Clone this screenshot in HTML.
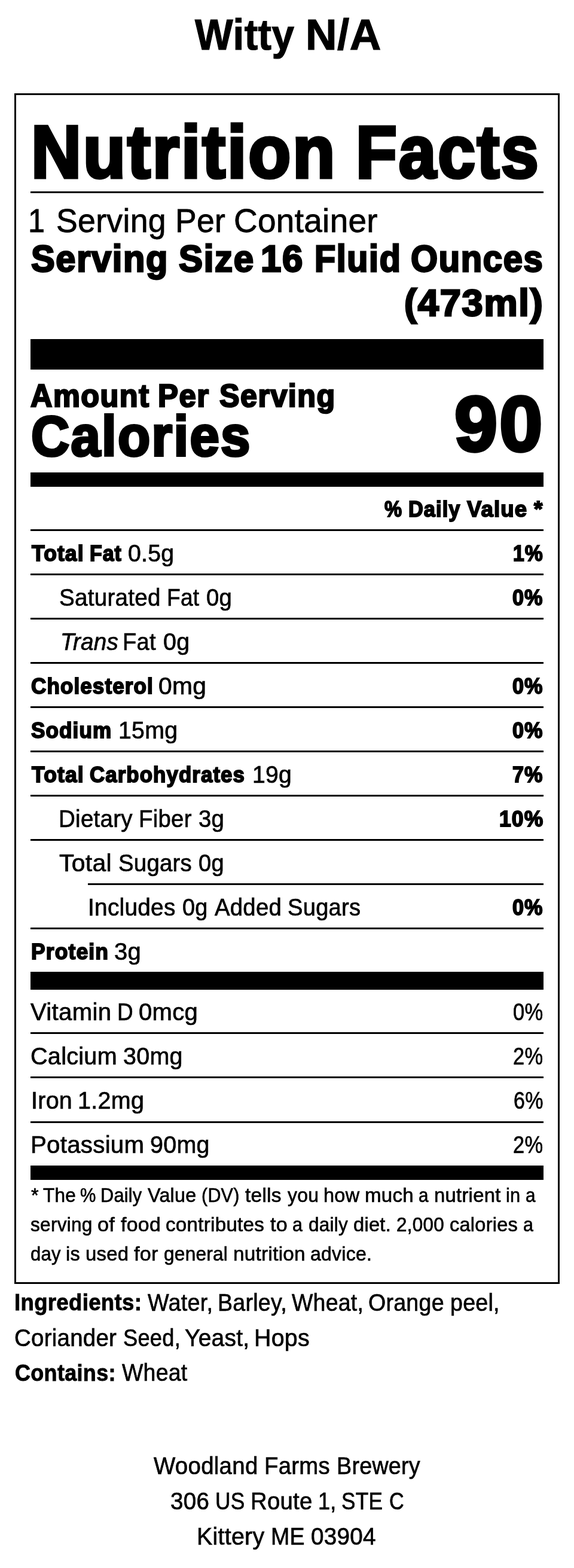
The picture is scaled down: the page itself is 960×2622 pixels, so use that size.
<!DOCTYPE html>
<html lang="en">
<head>
<meta charset="utf-8">
<title>Witty N/A - Nutrition Facts</title>
<style>
html,body{margin:0;padding:0;background:#fff;}
body{width:960px;height:2622px;position:relative;overflow:hidden;color:#000;font-family:"Liberation Sans",sans-serif;}
.t{position:absolute;white-space:pre;line-height:1;margin:0;padding:0;transform-origin:0 0;display:block;}
.k{position:absolute;background:#000;margin:0;}
.box{position:absolute;box-sizing:border-box;border:3px solid #000;}
h1,h2,p,ul,li,section,footer{margin:0;padding:0;list-style:none;font-size:0;line-height:0;font-weight:400;}
</style>
</head>
<body>
<h1><span class="t" style="left:325.8px;top:22.51px;font-size:71.7px;font-weight:700;-webkit-text-stroke:1.22px #000;letter-spacing:0.49px;transform:scaleX(0.9404)">Witty</span> <span class="t" style="left:510.68px;top:22.51px;font-size:71.7px;font-weight:700;-webkit-text-stroke:1.22px #000;letter-spacing:0.49px;transform:scaleX(1.0143)">N/A</span></h1>
<section>
<div class="box" style="left:24px;top:156px;width:912px;height:1991.2px"></div>
<h2><span class="t" style="left:51.89px;top:192.51px;font-size:123.92px;font-weight:700;-webkit-text-stroke:5.24px #000;letter-spacing:3.14px;transform:scaleX(0.9392)">Nutrition</span> <span class="t" style="left:595px;top:192.51px;font-size:123.92px;font-weight:700;-webkit-text-stroke:5.24px #000;letter-spacing:3.14px;transform:scaleX(0.9091)">Facts</span></h2>
<div class="k" style="left:51px;top:319.9px;width:858px;height:3.05px"></div>
<p><span class="t" style="left:47.35px;top:341.11px;font-size:56.29px;font-weight:400;-webkit-text-stroke:0.78px #000;letter-spacing:0.31px;transform:scaleX(0.8985)">1</span> <span class="t" style="left:94.01px;top:341.11px;font-size:56.29px;font-weight:400;-webkit-text-stroke:0.78px #000;letter-spacing:0.31px;transform:scaleX(0.9529)">Serving</span> <span class="t" style="left:293.25px;top:341.11px;font-size:56.29px;font-weight:400;-webkit-text-stroke:0.78px #000;letter-spacing:0.31px;transform:scaleX(0.9503)">Per</span> <span class="t" style="left:391.08px;top:341.11px;font-size:56.29px;font-weight:400;-webkit-text-stroke:0.78px #000;letter-spacing:0.31px;transform:scaleX(0.9762)">Container</span></p>
<p><span class="t" style="left:52.43px;top:400.51px;font-size:62.83px;font-weight:700;-webkit-text-stroke:2.92px #000;letter-spacing:1.75px;transform:scaleX(0.9477)">Serving</span> <span class="t" style="left:298.98px;top:400.51px;font-size:62.83px;font-weight:700;-webkit-text-stroke:2.92px #000;letter-spacing:1.75px;transform:scaleX(0.9564)">Size</span> <span class="t" style="left:436.16px;top:400.51px;font-size:62.83px;font-weight:700;-webkit-text-stroke:2.92px #000;letter-spacing:1.75px;transform:scaleX(0.9825)">16</span> <span class="t" style="left:525.9px;top:400.51px;font-size:62.83px;font-weight:700;-webkit-text-stroke:2.92px #000;letter-spacing:1.75px;transform:scaleX(0.9159)">Fluid</span> <span class="t" style="left:687.15px;top:400.51px;font-size:62.83px;font-weight:700;-webkit-text-stroke:2.92px #000;letter-spacing:1.75px;transform:scaleX(0.9232)">Ounces</span> <span class="t" style="left:676.17px;top:474.51px;font-size:62.83px;font-weight:700;-webkit-text-stroke:2.92px #000;letter-spacing:1.75px;transform:scaleX(1.0052)">(473ml)</span></p>
<div class="k" style="left:51px;top:566.75px;width:858px;height:51.1px"></div>
<p><span class="t" style="left:51.14px;top:634.75px;font-size:53.14px;font-weight:700;-webkit-text-stroke:2.57px #000;letter-spacing:1.54px;transform:scaleX(0.9502)">Amount</span> <span class="t" style="left:264.47px;top:634.75px;font-size:53.14px;font-weight:700;-webkit-text-stroke:2.57px #000;letter-spacing:1.54px;transform:scaleX(0.9591)">Per</span> <span class="t" style="left:366.67px;top:634.75px;font-size:53.14px;font-weight:700;-webkit-text-stroke:2.57px #000;letter-spacing:1.54px;transform:scaleX(0.9463)">Serving</span></p>
<p><span class="t" style="left:52.29px;top:681.9px;font-size:95.46px;font-weight:700;-webkit-text-stroke:4.2px #000;letter-spacing:2.52px;transform:scaleX(0.9293)">Calories</span> <span class="t" style="left:759.74px;top:644.57px;font-size:129.2px;font-weight:700;-webkit-text-stroke:5.35px #000;letter-spacing:3.21px;transform:scaleX(1.0017)">90</span></p>
<div class="k" style="left:51px;top:789.85px;width:858px;height:24px"></div>
<p><span class="t" style="left:643.12px;top:833px;font-size:37.75px;font-weight:700;-webkit-text-stroke:1.98px #000;letter-spacing:1.19px;transform:scaleX(0.8671)">%</span> <span class="t" style="left:682.96px;top:833px;font-size:37.75px;font-weight:700;-webkit-text-stroke:1.98px #000;letter-spacing:1.19px;transform:scaleX(0.9089)">Daily</span> <span class="t" style="left:781.13px;top:833px;font-size:37.75px;font-weight:700;-webkit-text-stroke:1.98px #000;letter-spacing:1.19px;transform:scaleX(0.9677)">Value</span> <span class="t" style="left:892.97px;top:833px;font-size:37.75px;font-weight:700;-webkit-text-stroke:1.98px #000;letter-spacing:1.19px;transform:scaleX(0.9778)">*</span></p>
<ul>
<li><div class="k" style="left:51px;top:884.9px;width:858px;height:3.05px"></div><span class="t" style="left:52.67px;top:907.4px;font-size:37.75px;font-weight:700;-webkit-text-stroke:1.98px #000;letter-spacing:1.19px;transform:scaleX(0.9396)">Total</span> <span class="t" style="left:149.67px;top:907.4px;font-size:37.75px;font-weight:700;-webkit-text-stroke:1.98px #000;letter-spacing:1.19px;transform:scaleX(0.8958)">Fat</span> <span class="t" style="left:214.44px;top:905.15px;font-size:40px;font-weight:400;-webkit-text-stroke:0.7px #000;letter-spacing:0.28px;transform:scaleX(0.9802)">0.5g</span> <span class="t" style="left:858.15px;top:907.4px;font-size:37.75px;font-weight:700;-webkit-text-stroke:1.98px #000;letter-spacing:1.19px;transform:scaleX(0.8930)">1%</span></li>
<li><div class="k" style="left:51px;top:958.9px;width:858px;height:3.05px"></div><span class="t" style="left:98.63px;top:979.15px;font-size:40px;font-weight:400;-webkit-text-stroke:0.7px #000;letter-spacing:0.28px;transform:scaleX(0.9649)">Saturated</span> <span class="t" style="left:279.08px;top:979.15px;font-size:40px;font-weight:400;-webkit-text-stroke:0.7px #000;letter-spacing:0.28px;transform:scaleX(0.9285)">Fat</span> <span class="t" style="left:344.81px;top:979.15px;font-size:40px;font-weight:400;-webkit-text-stroke:0.7px #000;letter-spacing:0.28px;transform:scaleX(0.9556)">0g</span> <span class="t" style="left:857.33px;top:981.4px;font-size:37.75px;font-weight:700;-webkit-text-stroke:1.98px #000;letter-spacing:1.19px;transform:scaleX(0.9064)">0%</span></li>
<li><div class="k" style="left:51px;top:1032.9px;width:858px;height:3.05px"></div><span class="t" style="left:100.59px;top:1053.15px;font-size:40px;font-weight:400;font-style:italic;-webkit-text-stroke:0.7px #000;letter-spacing:0.28px;transform:scaleX(0.9647)">Trans</span> <span class="t" style="left:205.14px;top:1053.15px;font-size:40px;font-weight:400;-webkit-text-stroke:0.7px #000;letter-spacing:0.28px;transform:scaleX(0.9509)">Fat</span> <span class="t" style="left:272.85px;top:1053.15px;font-size:40px;font-weight:400;-webkit-text-stroke:0.7px #000;letter-spacing:0.28px;transform:scaleX(0.9832)">0g</span></li>
<li><div class="k" style="left:51px;top:1106.9px;width:858px;height:3.05px"></div><span class="t" style="left:51.64px;top:1129.4px;font-size:37.75px;font-weight:700;-webkit-text-stroke:1.98px #000;letter-spacing:1.19px;transform:scaleX(0.9279)">Cholesterol</span> <span class="t" style="left:265.31px;top:1127.15px;font-size:40px;font-weight:400;-webkit-text-stroke:0.7px #000;letter-spacing:0.28px;transform:scaleX(1.0185)">0mg</span> <span class="t" style="left:857.33px;top:1129.4px;font-size:37.75px;font-weight:700;-webkit-text-stroke:1.98px #000;letter-spacing:1.19px;transform:scaleX(0.9064)">0%</span></li>
<li><div class="k" style="left:51px;top:1180.9px;width:858px;height:3.05px"></div><span class="t" style="left:52.11px;top:1203.4px;font-size:37.75px;font-weight:700;-webkit-text-stroke:1.98px #000;letter-spacing:1.19px;transform:scaleX(0.9298)">Sodium</span> <span class="t" style="left:198.15px;top:1201.15px;font-size:40px;font-weight:400;-webkit-text-stroke:0.7px #000;letter-spacing:0.28px;transform:scaleX(0.9814)">15mg</span> <span class="t" style="left:857.33px;top:1203.4px;font-size:37.75px;font-weight:700;-webkit-text-stroke:1.98px #000;letter-spacing:1.19px;transform:scaleX(0.9064)">0%</span></li>
<li><div class="k" style="left:51px;top:1254.9px;width:858px;height:3.05px"></div><span class="t" style="left:53.06px;top:1277.4px;font-size:37.75px;font-weight:700;-webkit-text-stroke:1.98px #000;letter-spacing:1.19px;transform:scaleX(0.9409)">Total</span> <span class="t" style="left:150.15px;top:1277.4px;font-size:37.75px;font-weight:700;-webkit-text-stroke:1.98px #000;letter-spacing:1.19px;transform:scaleX(0.9224)">Carbohydrates</span> <span class="t" style="left:421.51px;top:1275.15px;font-size:40px;font-weight:400;-webkit-text-stroke:0.7px #000;letter-spacing:0.28px;transform:scaleX(0.9782)">19g</span> <span class="t" style="left:857.43px;top:1277.4px;font-size:37.75px;font-weight:700;-webkit-text-stroke:1.98px #000;letter-spacing:1.19px;transform:scaleX(0.9067)">7%</span></li>
<li><div class="k" style="left:51px;top:1328.9px;width:858px;height:3.05px"></div><span class="t" style="left:98.41px;top:1349.15px;font-size:40px;font-weight:400;-webkit-text-stroke:0.7px #000;letter-spacing:0.28px;transform:scaleX(0.9623)">Dietary</span> <span class="t" style="left:232.03px;top:1349.15px;font-size:40px;font-weight:400;-webkit-text-stroke:0.7px #000;letter-spacing:0.28px;transform:scaleX(0.9589)">Fiber</span> <span class="t" style="left:331.84px;top:1349.15px;font-size:40px;font-weight:400;-webkit-text-stroke:0.7px #000;letter-spacing:0.28px;transform:scaleX(0.9590)">3g</span> <span class="t" style="left:834.65px;top:1351.4px;font-size:37.75px;font-weight:700;-webkit-text-stroke:1.98px #000;letter-spacing:1.19px;transform:scaleX(0.9389)">10%</span></li>
<li><div class="k" style="left:51px;top:1402.9px;width:858px;height:3.05px"></div><span class="t" style="left:99.47px;top:1423.15px;font-size:40px;font-weight:400;-webkit-text-stroke:0.7px #000;letter-spacing:0.28px;transform:scaleX(1.0239)">Total</span> <span class="t" style="left:197.8px;top:1423.15px;font-size:40px;font-weight:400;-webkit-text-stroke:0.7px #000;letter-spacing:0.28px;transform:scaleX(0.9577)">Sugars</span> <span class="t" style="left:332.07px;top:1423.15px;font-size:40px;font-weight:400;-webkit-text-stroke:0.7px #000;letter-spacing:0.28px;transform:scaleX(0.9496)">0g</span></li>
<li><div class="k" style="left:147px;top:1476.9px;width:762px;height:3.05px"></div><span class="t" style="left:147px;top:1497.15px;font-size:40px;font-weight:400;-webkit-text-stroke:0.7px #000;letter-spacing:0.28px;transform:scaleX(0.9694)">Includes</span> <span class="t" style="left:304.81px;top:1497.15px;font-size:40px;font-weight:400;-webkit-text-stroke:0.7px #000;letter-spacing:0.28px;transform:scaleX(0.9455)">0g</span> <span class="t" style="left:358.66px;top:1497.15px;font-size:40px;font-weight:400;-webkit-text-stroke:0.7px #000;letter-spacing:0.28px;transform:scaleX(0.9571)">Added</span> <span class="t" style="left:481.4px;top:1497.15px;font-size:40px;font-weight:400;-webkit-text-stroke:0.7px #000;letter-spacing:0.28px;transform:scaleX(0.9525)">Sugars</span> <span class="t" style="left:857.33px;top:1499.4px;font-size:37.75px;font-weight:700;-webkit-text-stroke:1.98px #000;letter-spacing:1.19px;transform:scaleX(0.9064)">0%</span></li>
<li><div class="k" style="left:51px;top:1550.9px;width:858px;height:3.05px"></div><span class="t" style="left:51.51px;top:1573.4px;font-size:37.75px;font-weight:700;-webkit-text-stroke:1.98px #000;letter-spacing:1.19px;transform:scaleX(0.9398)">Protein</span> <span class="t" style="left:191.39px;top:1571.15px;font-size:40px;font-weight:400;-webkit-text-stroke:0.7px #000;letter-spacing:0.28px;transform:scaleX(0.9998)">3g</span></li>
</ul>
<div class="k" style="left:51px;top:1625.3px;width:858px;height:30px"></div>
<ul>
<li><span class="t" style="left:51.44px;top:1671.55px;font-size:40px;font-weight:400;-webkit-text-stroke:0.7px #000;letter-spacing:0.28px;transform:scaleX(1.0048)">Vitamin</span> <span class="t" style="left:195.53px;top:1671.55px;font-size:40px;font-weight:400;-webkit-text-stroke:0.7px #000;letter-spacing:0.28px;transform:scaleX(0.9218)">D</span> <span class="t" style="left:232.37px;top:1671.55px;font-size:40px;font-weight:400;-webkit-text-stroke:0.7px #000;letter-spacing:0.28px;transform:scaleX(1.0007)">0mcg</span> <span class="t" style="left:858.34px;top:1671.55px;font-size:40px;font-weight:400;-webkit-text-stroke:0.7px #000;letter-spacing:0.28px;transform:scaleX(0.8633)">0%</span></li>
<li><div class="k" style="left:51px;top:1726.3px;width:858px;height:3.05px"></div><span class="t" style="left:51.16px;top:1745.75px;font-size:40px;font-weight:400;-webkit-text-stroke:0.7px #000;letter-spacing:0.28px;transform:scaleX(0.9896)">Calcium</span> <span class="t" style="left:206.24px;top:1745.75px;font-size:40px;font-weight:400;-webkit-text-stroke:0.7px #000;letter-spacing:0.28px;transform:scaleX(0.9866)">30mg</span> <span class="t" style="left:858.47px;top:1745.75px;font-size:40px;font-weight:400;-webkit-text-stroke:0.7px #000;letter-spacing:0.28px;transform:scaleX(0.8604)">2%</span></li>
<li><div class="k" style="left:51px;top:1800.4px;width:858px;height:3.05px"></div><span class="t" style="left:51.81px;top:1819.85px;font-size:40px;font-weight:400;-webkit-text-stroke:0.7px #000;letter-spacing:0.28px;transform:scaleX(0.9861)">Iron</span> <span class="t" style="left:130.48px;top:1819.85px;font-size:40px;font-weight:400;-webkit-text-stroke:0.7px #000;letter-spacing:0.28px;transform:scaleX(0.9877)">1.2mg</span> <span class="t" style="left:858.86px;top:1819.85px;font-size:40px;font-weight:400;-webkit-text-stroke:0.7px #000;letter-spacing:0.28px;transform:scaleX(0.8506)">6%</span></li>
<li><div class="k" style="left:51px;top:1874.5px;width:858px;height:3.05px"></div><span class="t" style="left:50.89px;top:1894.05px;font-size:40px;font-weight:400;-webkit-text-stroke:0.7px #000;letter-spacing:0.28px;transform:scaleX(1.0054)">Potassium</span> <span class="t" style="left:250.97px;top:1894.05px;font-size:40px;font-weight:400;-webkit-text-stroke:0.7px #000;letter-spacing:0.28px;transform:scaleX(0.9868)">90mg</span> <span class="t" style="left:858.47px;top:1894.05px;font-size:40px;font-weight:400;-webkit-text-stroke:0.7px #000;letter-spacing:0.28px;transform:scaleX(0.8604)">2%</span></li>
</ul>
<div class="k" style="left:51px;top:1948.75px;width:858px;height:23.9px"></div>
<p><span class="t" style="left:51.66px;top:1981.65px;font-size:33.38px;font-weight:400;-webkit-text-stroke:0.67px #000;letter-spacing:0.27px;transform:scaleX(0.9715)">*</span> <span class="t" style="left:72.34px;top:1981.65px;font-size:33.38px;font-weight:400;-webkit-text-stroke:0.67px #000;letter-spacing:0.27px;transform:scaleX(0.9446)">The</span> <span class="t" style="left:133.96px;top:1981.65px;font-size:33.38px;font-weight:400;-webkit-text-stroke:0.67px #000;letter-spacing:0.27px;transform:scaleX(0.8881)">%</span> <span class="t" style="left:168.25px;top:1981.65px;font-size:33.38px;font-weight:400;-webkit-text-stroke:0.67px #000;letter-spacing:0.27px;transform:scaleX(0.9195)">Daily</span> <span class="t" style="left:247.33px;top:1981.65px;font-size:33.38px;font-weight:400;-webkit-text-stroke:0.67px #000;letter-spacing:0.27px;transform:scaleX(0.9670)">Value</span> <span class="t" style="left:336.53px;top:1981.65px;font-size:33.38px;font-weight:400;-webkit-text-stroke:0.67px #000;letter-spacing:0.27px;transform:scaleX(0.9122)">(DV)</span> <span class="t" style="left:410.31px;top:1981.65px;font-size:33.38px;font-weight:400;-webkit-text-stroke:0.67px #000;letter-spacing:0.27px;transform:scaleX(1.0015)">tells</span> <span class="t" style="left:481.27px;top:1981.65px;font-size:33.38px;font-weight:400;-webkit-text-stroke:0.67px #000;letter-spacing:0.27px;transform:scaleX(0.9568)">you</span> <span class="t" style="left:541.12px;top:1981.65px;font-size:33.38px;font-weight:400;-webkit-text-stroke:0.67px #000;letter-spacing:0.27px;transform:scaleX(0.9730)">how</span> <span class="t" style="left:610.41px;top:1981.65px;font-size:33.38px;font-weight:400;-webkit-text-stroke:0.67px #000;letter-spacing:0.27px;transform:scaleX(0.9915)">much</span> <span class="t" style="left:700.06px;top:1981.65px;font-size:33.38px;font-weight:400;-webkit-text-stroke:0.67px #000;letter-spacing:0.27px;transform:scaleX(0.8881)">a</span> <span class="t" style="left:725.79px;top:1981.65px;font-size:33.38px;font-weight:400;-webkit-text-stroke:0.67px #000;letter-spacing:0.27px;transform:scaleX(0.9830)">nutrient</span> <span class="t" style="left:846.35px;top:1981.65px;font-size:33.38px;font-weight:400;-webkit-text-stroke:0.67px #000;letter-spacing:0.27px;transform:scaleX(0.9233)">in</span> <span class="t" style="left:878.63px;top:1981.65px;font-size:33.38px;font-weight:400;-webkit-text-stroke:0.67px #000;letter-spacing:0.27px;transform:scaleX(0.8881)">a</span> <span class="t" style="left:51.32px;top:2030.95px;font-size:33.38px;font-weight:400;-webkit-text-stroke:0.67px #000;letter-spacing:0.27px;transform:scaleX(0.9467)">serving</span> <span class="t" style="left:163.39px;top:2030.95px;font-size:33.38px;font-weight:400;-webkit-text-stroke:0.67px #000;letter-spacing:0.27px;transform:scaleX(1.0248)">of</span> <span class="t" style="left:201.89px;top:2030.95px;font-size:33.38px;font-weight:400;-webkit-text-stroke:0.67px #000;letter-spacing:0.27px;transform:scaleX(1.0154)">food</span> <span class="t" style="left:277.44px;top:2030.95px;font-size:33.38px;font-weight:400;-webkit-text-stroke:0.67px #000;letter-spacing:0.27px;transform:scaleX(0.9934)">contributes</span> <span class="t" style="left:451.96px;top:2030.95px;font-size:33.38px;font-weight:400;-webkit-text-stroke:0.67px #000;letter-spacing:0.27px;transform:scaleX(1.0214)">to</span> <span class="t" style="left:489.09px;top:2030.95px;font-size:33.38px;font-weight:400;-webkit-text-stroke:0.67px #000;letter-spacing:0.27px;transform:scaleX(0.9088)">a</span> <span class="t" style="left:515.71px;top:2030.95px;font-size:33.38px;font-weight:400;-webkit-text-stroke:0.67px #000;letter-spacing:0.27px;transform:scaleX(0.9424)">daily</span> <span class="t" style="left:591.17px;top:2030.95px;font-size:33.38px;font-weight:400;-webkit-text-stroke:0.67px #000;letter-spacing:0.27px;transform:scaleX(0.9785)">diet.</span> <span class="t" style="left:662.7px;top:2030.95px;font-size:33.38px;font-weight:400;-webkit-text-stroke:0.67px #000;letter-spacing:0.27px;transform:scaleX(0.9408)">2,000</span> <span class="t" style="left:752.11px;top:2030.95px;font-size:33.38px;font-weight:400;-webkit-text-stroke:0.67px #000;letter-spacing:0.27px;transform:scaleX(0.9742)">calories</span> <span class="t" style="left:874.51px;top:2030.95px;font-size:33.38px;font-weight:400;-webkit-text-stroke:0.67px #000;letter-spacing:0.27px;transform:scaleX(0.9088)">a</span> <span class="t" style="left:50.84px;top:2080.45px;font-size:33.38px;font-weight:400;-webkit-text-stroke:0.67px #000;letter-spacing:0.27px;transform:scaleX(0.9269)">day</span> <span class="t" style="left:110.41px;top:2080.45px;font-size:33.38px;font-weight:400;-webkit-text-stroke:0.67px #000;letter-spacing:0.27px;transform:scaleX(0.9718)">is</span> <span class="t" style="left:143.2px;top:2080.45px;font-size:33.38px;font-weight:400;-webkit-text-stroke:0.67px #000;letter-spacing:0.27px;transform:scaleX(0.9854)">used</span> <span class="t" style="left:224.43px;top:2080.45px;font-size:33.38px;font-weight:400;-webkit-text-stroke:0.67px #000;letter-spacing:0.27px;transform:scaleX(1.0232)">for</span> <span class="t" style="left:273.67px;top:2080.45px;font-size:33.38px;font-weight:400;-webkit-text-stroke:0.67px #000;letter-spacing:0.27px;transform:scaleX(0.9459)">general</span> <span class="t" style="left:389.54px;top:2080.45px;font-size:33.38px;font-weight:400;-webkit-text-stroke:0.67px #000;letter-spacing:0.27px;transform:scaleX(0.9979)">nutrition</span> <span class="t" style="left:519px;top:2080.45px;font-size:33.38px;font-weight:400;-webkit-text-stroke:0.67px #000;letter-spacing:0.27px;transform:scaleX(0.9582)">advice.</span></p>
</section>
<p><span class="t" style="left:24.19px;top:2158.41px;font-size:39.51px;font-weight:700;-webkit-text-stroke:0.9px #000;letter-spacing:0.36px;transform:scaleX(0.9253)">Ingredients:</span> <span class="t" style="left:246.72px;top:2157.65px;font-size:40px;font-weight:400;-webkit-text-stroke:0.7px #000;letter-spacing:0.28px;transform:scaleX(0.9435)">Water,</span> <span class="t" style="left:363.65px;top:2157.65px;font-size:40px;font-weight:400;-webkit-text-stroke:0.7px #000;letter-spacing:0.28px;transform:scaleX(0.9387)">Barley,</span> <span class="t" style="left:488.21px;top:2157.65px;font-size:40px;font-weight:400;-webkit-text-stroke:0.7px #000;letter-spacing:0.28px;transform:scaleX(0.9358)">Wheat,</span> <span class="t" style="left:616.49px;top:2157.65px;font-size:40px;font-weight:400;-webkit-text-stroke:0.7px #000;letter-spacing:0.28px;transform:scaleX(0.9383)">Orange</span> <span class="t" style="left:753.32px;top:2157.65px;font-size:40px;font-weight:400;-webkit-text-stroke:0.7px #000;letter-spacing:0.28px;transform:scaleX(0.9381)">peel,</span> <span class="t" style="left:24.38px;top:2216.55px;font-size:40px;font-weight:400;-webkit-text-stroke:0.7px #000;letter-spacing:0.28px;transform:scaleX(0.9605)">Coriander</span> <span class="t" style="left:206.23px;top:2216.55px;font-size:40px;font-weight:400;-webkit-text-stroke:0.7px #000;letter-spacing:0.28px;transform:scaleX(0.9058)">Seed,</span> <span class="t" style="left:309.1px;top:2216.55px;font-size:40px;font-weight:400;-webkit-text-stroke:0.7px #000;letter-spacing:0.28px;transform:scaleX(0.9719)">Yeast,</span> <span class="t" style="left:424.6px;top:2216.55px;font-size:40px;font-weight:400;-webkit-text-stroke:0.7px #000;letter-spacing:0.28px;transform:scaleX(0.9830)">Hops</span></p>
<p><span class="t" style="left:25.23px;top:2276.11px;font-size:39.51px;font-weight:700;-webkit-text-stroke:0.9px #000;letter-spacing:0.36px;transform:scaleX(0.9106)">Contains:</span> <span class="t" style="left:203.52px;top:2275.35px;font-size:40px;font-weight:400;-webkit-text-stroke:0.7px #000;letter-spacing:0.28px;transform:scaleX(0.9360)">Wheat</span></p>
<footer><span class="t" style="left:257.37px;top:2430.95px;font-size:40px;font-weight:400;-webkit-text-stroke:0.7px #000;letter-spacing:0.28px;transform:scaleX(0.9611)">Woodland</span> <span class="t" style="left:442.35px;top:2430.95px;font-size:40px;font-weight:400;-webkit-text-stroke:0.7px #000;letter-spacing:0.28px;transform:scaleX(0.9570)">Farms</span> <span class="t" style="left:562.89px;top:2430.95px;font-size:40px;font-weight:400;-webkit-text-stroke:0.7px #000;letter-spacing:0.28px;transform:scaleX(0.9414)">Brewery</span> <span class="t" style="left:284.64px;top:2489.75px;font-size:40px;font-weight:400;-webkit-text-stroke:0.7px #000;letter-spacing:0.28px;transform:scaleX(0.9628)">306</span> <span class="t" style="left:359.8px;top:2489.75px;font-size:40px;font-weight:400;-webkit-text-stroke:0.7px #000;letter-spacing:0.28px;transform:scaleX(0.8841)">US</span> <span class="t" style="left:418.71px;top:2489.75px;font-size:40px;font-weight:400;-webkit-text-stroke:0.7px #000;letter-spacing:0.28px;transform:scaleX(0.9582)">Route</span> <span class="t" style="left:532.05px;top:2489.75px;font-size:40px;font-weight:400;-webkit-text-stroke:0.7px #000;letter-spacing:0.28px;transform:scaleX(0.8994)">1,</span> <span class="t" style="left:570.74px;top:2489.75px;font-size:40px;font-weight:400;-webkit-text-stroke:0.7px #000;letter-spacing:0.28px;transform:scaleX(0.8799)">STE</span> <span class="t" style="left:650.87px;top:2489.75px;font-size:40px;font-weight:400;-webkit-text-stroke:0.7px #000;letter-spacing:0.28px;transform:scaleX(0.8538)">C</span> <span class="t" style="left:329.21px;top:2548.55px;font-size:40px;font-weight:400;-webkit-text-stroke:0.7px #000;letter-spacing:0.28px;transform:scaleX(0.9830)">Kittery</span> <span class="t" style="left:452.51px;top:2548.55px;font-size:40px;font-weight:400;-webkit-text-stroke:0.7px #000;letter-spacing:0.28px;transform:scaleX(0.9365)">ME</span> <span class="t" style="left:520.18px;top:2548.55px;font-size:40px;font-weight:400;-webkit-text-stroke:0.7px #000;letter-spacing:0.28px;transform:scaleX(0.9661)">03904</span></footer>
</body>
</html>
